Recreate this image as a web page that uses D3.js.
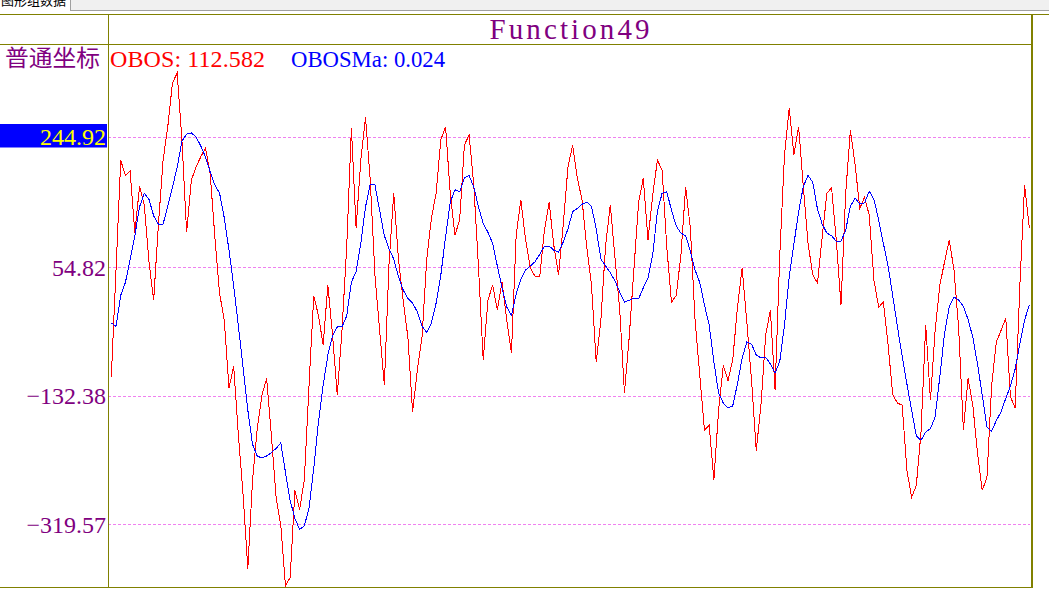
<!DOCTYPE html>
<html>
<head>
<meta charset="utf-8">
<script src="https://cdn.jsdelivr.net/npm/d3@7"></script>
<style>
body{margin:0;background:#fff;overflow:hidden}
svg{display:block}
</style>
</head>
<body>
<script>
// OBOS series (red)
var obos = [
-105, 51, 211, 189, 195, 105, 173, 146, 63, 7,
117, 211, 260, 324, 338, 241, 106, 182, 201, 216,
229, 192, 99, 17, -22, -121, -89, -190, -277, -384,
-255, -180, -131, -107, -190, -280, -321, -409, -397, -270,
-298, -255, -117, 13, -15, -58, 29, -44, -131, -37,
84, 258, 112, 211, 274, 182, 44, -37, -117, 61,
163, 66, 7, -47, -156, -95, -47, 66, 127, 163,
241, 260, 163, 102, 124, 233, 248, 175, 55, -80,
7, 29, -7, 33, -22, -70, 102, 153, 95, 54,
42, 41, 109, 150, 87, 44, 117, 201, 233, 185,
153, 84, 29, -83, -22, 87, 146, 68, -7, -128,
-48, 51, 149, 185, 95, 160, 211, 197, 84, 4,
14, 73, 172, 112, -22, -102, -182, -175, -255, -153,
-88, -110, -80, -4, 54, -25, -110, -212, -146, -44,
-7, -124, 73, 219, 287, 219, 260, 172, 90, 44,
32, 99, 163, 171, 95, 0, 163, 255, 204, 141,
157, 131, 36, -3, 4, -58, -131, -143, -146, -241,
-280, -263, -185, -29, -139, -37, 29, 63, 95, 51,
-34, -182, -107, -146, -216, -270, -252, -117, -54, -37,
-19, -134, -150, 29, 175, 112.582
];
// OBOSMa series (blue)
var obosMa = [
-26, -31, 14, 33, 66, 101, 143, 163, 154, 130,
118, 118, 144, 172, 201, 239, 249, 251, 245, 232,
216, 194, 175, 163, 127, 80, 28, -31, -91, -153,
-203, -220, -223, -220, -215, -209, -201, -244, -285, -311,
-327, -322, -296, -238, -171, -117, -73, -45, -32, -32,
-16, 33, 49, 90, 143, 176, 175, 138, 101, 82,
67, 41, 22, 10, 3, -10, -31, -40, -26, 3,
44, 99, 150, 168, 165, 185, 189, 172, 143, 119,
106, 90, 57, 25, -3, -15, 16, 38, 51, 57,
63, 74, 86, 86, 80, 77, 92, 111, 136, 141,
147, 150, 144, 111, 67, 57, 47, 35, 19, 4,
7, 10, 9, 25, 39, 73, 136, 163, 165, 138,
115, 105, 101, 79, 51, 33, 0, -29, -83, -128,
-143, -150, -147, -115, -77, -54, -57, -73, -77, -76,
-86, -99, -82, -29, 41, 89, 136, 173, 189, 179,
140, 118, 105, 101, 93, 93, 109, 144, 156, 147,
149, 166, 154, 124, 90, 57, 13, -32, -75, -115,
-153, -191, -197, -185, -180, -163, -104, -41, -2, 12,
7, -2, -21, -47, -86, -131, -178, -184, -168, -156,
-136, -118, -93, -56, -22, 0.024
];
var yTicks = [244.92, 54.82, -132.38, -319.57];
var highlightTick = 244.92;
var title = "Function49", coordLabel = "普通坐标", tabLabel = "图形组数据";

var width = 1049, height = 589;
var plotLeft = 108, plotRight = 1031, headTop = 14, plotTop = 44, plotBottom = 588;
var olive = "#808000", purple = "#800080";
var serif = "'Liberation Serif', 'DejaVu Serif', serif";

var svg = d3.select("body").append("svg").attr("width", width).attr("height", height);

// tab strip at the very top
svg.append("rect").attr("x", 0).attr("y", 0).attr("width", width).attr("height", 10).attr("fill", "#f0f0f0");
svg.append("rect").attr("x", 0).attr("y", 0).attr("width", 70).attr("height", 11).attr("fill", "#fff");
svg.append("line").attr("x1", 70).attr("y1", 10.5).attr("x2", width).attr("y2", 10.5).attr("stroke", "#a0a0a0");
svg.append("line").attr("x1", 70.5).attr("y1", 0).attr("x2", 70.5).attr("y2", 10).attr("stroke", "#a0a0a0");
svg.append("text").attr("x", 1).attr("y", 4.5).attr("font-family", "'Noto Sans CJK SC'").attr("font-size", 13)
    .attr("fill", "#000").text(tabLabel);

// scales
var x = d3.scaleLinear().domain([0, obos.length - 1]).range([111.3, 1029.3]);
var y = d3.scaleLinear().domain([-319.57, 244.92]).range([524.3, 137]);

// grid + labels through the axis
var axis = svg.append("g").attr("transform", "translate(" + plotLeft + ",0)")
    .call(d3.axisLeft(y).tickValues(yTicks).tickSize(-(1030 - plotLeft)).tickPadding(2).tickFormat(d3.format(".2f")));
axis.select(".domain").remove();
axis.selectAll(".tick line").attr("stroke", "#f080f0").attr("stroke-dasharray", "3,2")
    .attr("shape-rendering", "crispEdges");
axis.selectAll(".tick text").attr("font-family", serif).attr("font-size", 24)
    .attr("fill", purple).attr("dy", "0.33em");
axis.selectAll(".tick").filter(function(d){ return d === highlightTick; })
    .each(function(){
        var t = d3.select(this);
        t.insert("rect", "text").attr("x", -plotLeft).attr("y", -13.5).attr("width", plotLeft - 1)
            .attr("height", 23.5).attr("fill", "#0000ff");
        t.select("text").attr("fill", "#ffff00");
    });

// series lines
var line = d3.line().x(function(d, i){ return x(i); }).y(function(d){ return y(d); });
svg.append("path").datum(obos).attr("d", line).attr("fill", "none").attr("stroke", "#ff0000")
    .attr("stroke-width", 1).attr("shape-rendering", "crispEdges");
svg.append("path").datum(obosMa).attr("d", line).attr("fill", "none").attr("stroke", "#0000ff")
    .attr("stroke-width", 1).attr("shape-rendering", "crispEdges");

// frame
svg.append("line").attr("x1", 0).attr("y1", headTop + 0.5).attr("x2", width).attr("y2", headTop + 0.5).attr("stroke", olive);
svg.append("line").attr("x1", 0).attr("y1", plotTop + 0.5).attr("x2", plotRight).attr("y2", plotTop + 0.5).attr("stroke", olive);
svg.append("line").attr("x1", 0).attr("y1", plotBottom - 0.5).attr("x2", plotRight).attr("y2", plotBottom - 0.5).attr("stroke", olive);
svg.append("line").attr("x1", plotLeft + 0.5).attr("y1", headTop).attr("x2", plotLeft + 0.5).attr("y2", plotBottom).attr("stroke", olive);
svg.append("line").attr("x1", plotRight + 1).attr("y1", headTop).attr("x2", plotRight + 1).attr("y2", plotBottom).attr("stroke", olive).attr("stroke-width", 2);

// title
svg.append("text").attr("x", (plotLeft + plotRight) / 2).attr("y", 39.3).attr("text-anchor", "middle")
    .attr("font-family", serif).attr("font-size", 29).attr("fill", purple)
    .attr("textLength", 160).attr("lengthAdjust", "spacing").text(title);

// legend row
svg.append("text").attr("x", 5).attr("y", 66).attr("font-family", "'Noto Sans CJK SC'").attr("font-size", 23)
    .attr("fill", purple).attr("textLength", 95).attr("lengthAdjust", "spacingAndGlyphs").text(coordLabel);
svg.append("text").attr("x", 110).attr("y", 66.5).attr("font-family", serif).attr("font-size", 24)
    .attr("fill", "#ff0000").attr("textLength", 155).attr("lengthAdjust", "spacing")
    .text("OBOS: " + obos[obos.length - 1].toFixed(3));
svg.append("text").attr("x", 291).attr("y", 66.5).attr("font-family", serif).attr("font-size", 24)
    .attr("fill", "#0000ff").attr("textLength", 154).attr("lengthAdjust", "spacingAndGlyphs")
    .text("OBOSMa: " + obosMa[obosMa.length - 1].toFixed(3));
</script>
</body>
</html>
